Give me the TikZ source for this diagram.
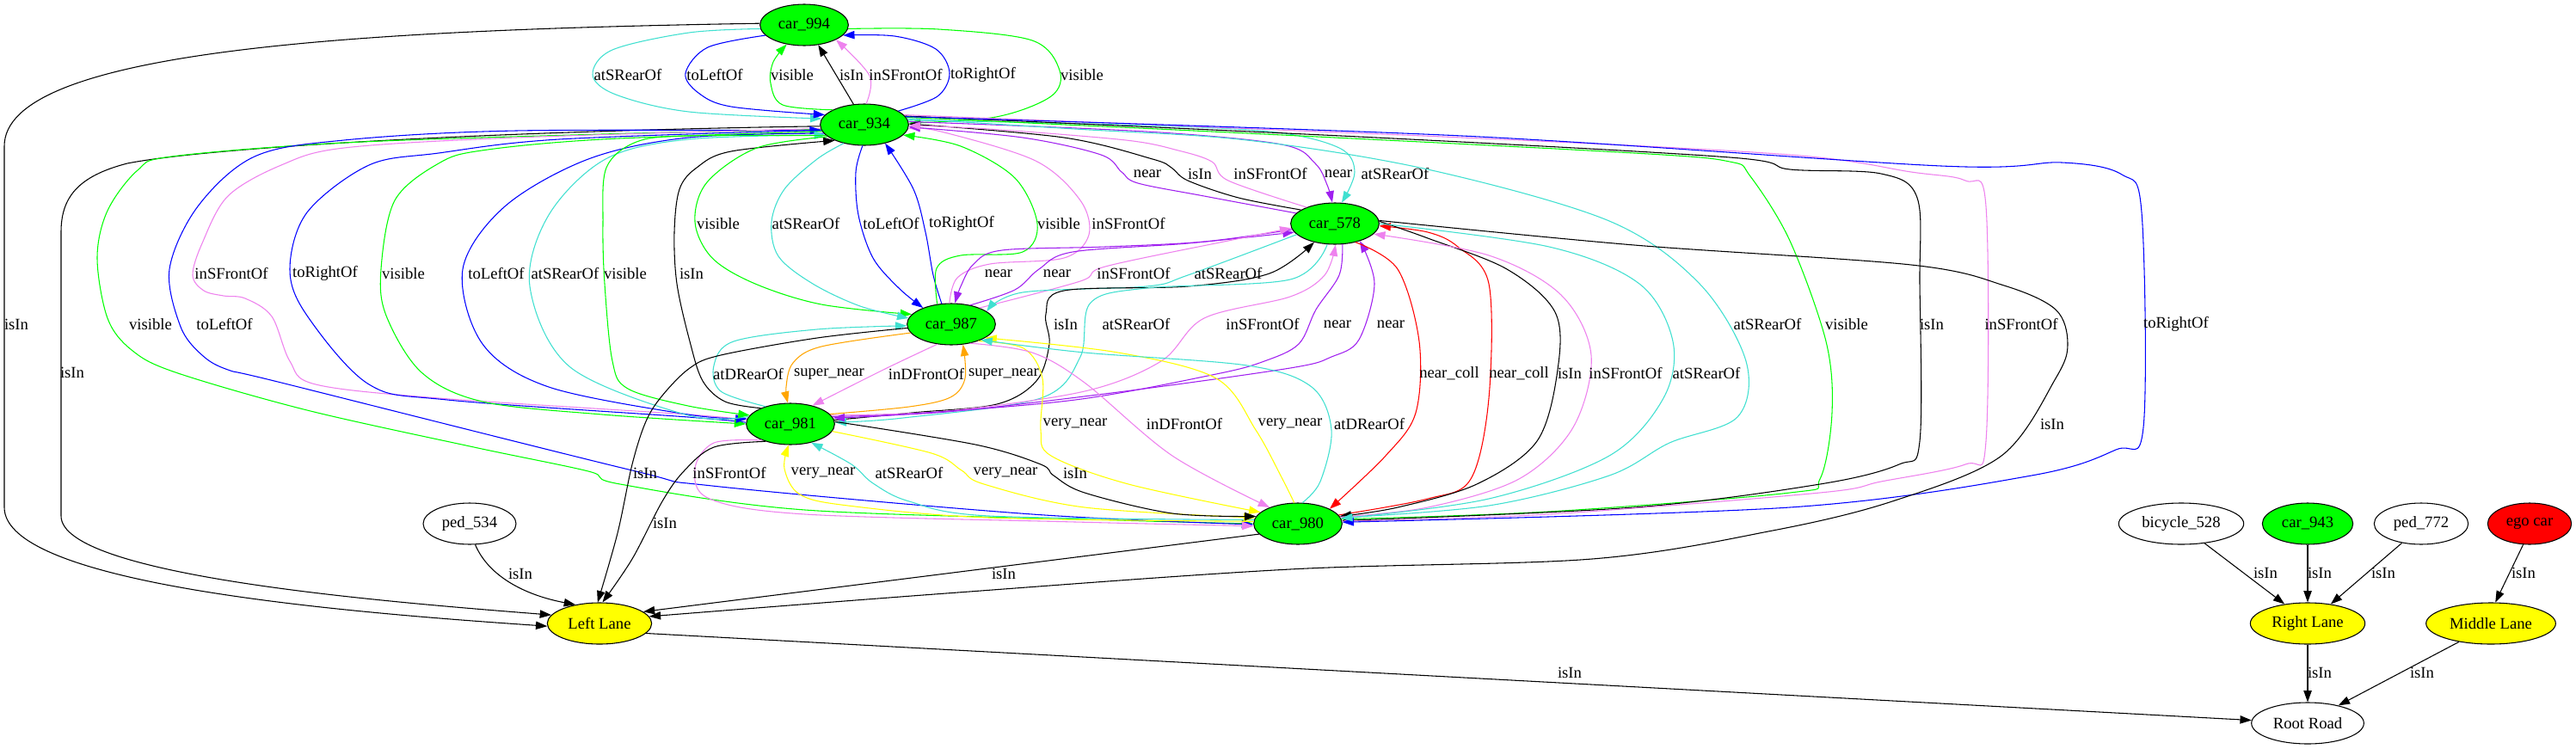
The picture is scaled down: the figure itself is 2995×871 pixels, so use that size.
\documentclass[tikz,border=0pt]{standalone}
\usepackage{fontspec}
\setmainfont{Liberation Serif}
\usetikzlibrary{shapes.geometric,arrows.meta}
\definecolor{gvgreen}{HTML}{00FF00}
\definecolor{gvblue}{HTML}{0000FF}
\definecolor{gvturq}{HTML}{40E0D0}
\definecolor{gvviolet}{HTML}{EE82EE}
\definecolor{gvpurple}{HTML}{A020F0}
\definecolor{gvorange}{HTML}{FFA500}
\definecolor{gvyellow}{HTML}{FFFF00}
\definecolor{gvred}{HTML}{FF0000}
\newcommand\gvf{\fontsize{14}{16}\selectfont}
\newcommand\gedge[2]{\draw[ed,#1] plot[smooth,tension=0.55] coordinates {#2};}
\begin{document}
\begin{tikzpicture}[x=0.75pt,y=-0.75pt,
  ed/.style={line width=0.8pt,-{Triangle[length=10pt,width=7pt]}},
  nd/.style={ellipse,draw,line width=0.8pt,minimum height=36pt,inner sep=0pt,font=\gvf},
  car/.style={nd,fill=gvgreen,minimum width=77pt},
  lane/.style={nd,fill=gvyellow},
  lbl/.style={font=\gvf,inner sep=0pt}]
\fill[white] (0,0) rectangle (2995,871);
\useasboundingbox (0,0) rectangle (2995,871);
% nodes
\node[car] (n994) at (935,29) {car\_994};
\node[car] (n934) at (1005,145) {car\_934};
\node[car] (n578) at (1552,260) {car\_578};
\node[car] (n987) at (1106,377) {car\_987};
\node[car] (n981) at (919,493) {car\_981};
\node[car] (n980) at (1509,609) {car\_980};
\node[nd,minimum width=81pt] (p534) at (546,609) {ped\_534};
\node[lane,minimum width=91pt] (lft) at (697,725) {Left Lane};
\node[nd,minimum width=109pt] (bic) at (2536,609) {bicycle\_528};
\node[car,minimum width=79pt] (c943) at (2683,609) {car\_943};
\node[nd,minimum width=82pt] (p772) at (2815,609) {ped\_772};
\node[nd,fill=gvred,minimum width=73pt] (ego) at (2941,609) {ego car};
\node[lane,minimum width=100pt] (rgt) at (2683,725) {Right Lane};
\node[lane,minimum width=113pt] (mid) at (2896,725) {Middle Lane};
\node[nd,minimum width=98pt] (root) at (2683,841) {Root Road};
% A: car_994 <-> car_934
\gedge{gvturq}{(n994.185) (801,38) (712,58) (689,87) (716,110) (801,130) (n934.172)}
\gedge{gvblue}{(n994.195) (823,55) (797,85) (812,108) (850,124) (n934.166)}
\gedge{gvgreen}{(n934.155) (910,122) (896,97) (899,72) (n994.228)}
\draw[ed] (n934.118) -- (n994.305);
\gedge{gvviolet}{(n934.85) (1011,88) (n994.335)}
\gedge{gvblue}{(n934.22) (1090,112) (1104,85) (1088,57) (1040,42) (n994.345)}
\gedge{gvgreen}{(n994.355) (1091,34) (1200,47) (1232,82) (1222,112) (1158,136) (n934.2)}
\node[lbl] (l1) at (730,87) {atSRearOf};
\node[lbl] (l2) at (831,87) {toLeftOf};
\node[lbl] (l3) at (921,87) {visible};
\node[lbl] (l4) at (990,87) {isIn};
\node[lbl] (l5) at (1053,87) {inSFrontOf};
\node[lbl] (l6) at (1143,87) {toRightOf};
\node[lbl] (l7) at (1258,87) {visible};
% B, C: to Left Lane along the far left
\draw[ed] (n994.178) .. controls (400,35) and (5,60) .. (5,170) -- (5,590) .. controls (5,680) and (400,712) .. (lft.183);
\node[lbl] (l8) at (19,377) {isIn};
\draw[ed] (n934.182) .. controls (600,152) and (250,170) .. (148,190) .. controls (90,205) and (71,230) .. (71,270) -- (71,600) .. controls (71,670) and (450,700) .. (lft.170);
\node[lbl] (l9) at (84,433) {isIn};
% D: car_934 -> car_980 (left)
\gedge{gvgreen}{(n934.186) (700,156) (400,166) (200,182) (160,198) (125,245) (113,300) (125,370) (153,407) (204,433) (357,477) (551,520) (684,548) (721,563) (936,593) (1300,605) (n980.west)}
\gedge{gvblue}{(n934.188) (600,152) (400,163) (296,182) (230,240) (197,313) (210,380) (235,413) (265,430) (327,445) (735,547) (828,565) (1200,598) (n980.181)}
\node[lbl] (l10) at (175,377) {visible};
\node[lbl] (l11) at (261,377) {toLeftOf};
% E: car_934 <-> car_981
\gedge{gvviolet}{(n934.185) (600,160) (400,172) (327,192) (265,228) (235,283) (224,320) (237,338) (260,344) (285,347) (316,368) (337,420) (367,447) (510,463) (800,482) (n981.175)}
\gedge{gvblue}{(n981.178) (800,485) (520,465) (429,447) (357,367) (337,313) (357,247) (429,192) (510,178) (650,162) (n934.187)}
\gedge{gvgreen}{(n934.189) (700,162) (560,175) (510,190) (459,233) (443,313) (449,367) (490,433) (561,467) (700,482) (n981.180)}
\gedge{gvblue}{(n934.192) (800,160) (684,185) (587,240) (538,313) (561,400) (638,450) (800,482) (n981.173)}
\gedge{gvturq}{(n981.170) (800,483) (663,427) (616,333) (638,250) (704,185) (800,162) (n934.195)}
\gedge{gvgreen}{(n934.196) (800,158) (740,165) (705,195) (701,260) (703,330) (712,420) (730,452) (800,472) (n981.168)}
\gedge{black}{(n981.152) (843,467) (817,443) (802,397) (787,330) (784,270) (790,220) (810,195) (850,176) (n934.208)}
\node[lbl] (l12) at (269,318) {inSFrontOf};
\node[lbl] (l13) at (378,318) {toRightOf};
\node[lbl] (l14) at (469,318) {visible};
\node[lbl] (l15) at (577,318) {toLeftOf};
\node[lbl] (l16) at (657,318) {atSRearOf};
\node[lbl] (l17) at (727,318) {visible};
\node[lbl] (l18) at (804,318) {isIn};
% F: car_934 <-> car_987
\gedge{gvgreen}{(n934.198) (880,172) (822,212) (808,258) (828,300) (878,330) (955,354) (n987.166)}
\gedge{gvturq}{(n934.222) (950,185) (912,220) (897,258) (905,298) (945,330) (1000,356) (n987.172)}
\gedge{gvblue}{(n934.265) (995,200) (998,250) (1015,300) (1045,335) (n987.150)}
\gedge{gvblue}{(n987.115) (1085,320) (1076,270) (1062,220) (n934.318)}
\gedge{gvgreen}{(n987.125) (1089,312) (1117,297) (1189,293) (1206,260) (1180,207) (1117,170) (n934.345)}
\gedge{gvviolet}{(n987.95) (1113,323) (1151,307) (1237,300) (1266,273) (1256,233) (1204,187) (1094,153) (n934.355)}
\node[lbl] (l19) at (835,260) {visible};
\node[lbl] (l20) at (937,260) {atSRearOf};
\node[lbl] (l21) at (1036,260) {toLeftOf};
\node[lbl] (l22) at (1118,260) {toRightOf};
\node[lbl] (l23) at (1231,260) {visible};
\node[lbl] (l24) at (1312,260) {inSFrontOf};
% G: car_934 <-> car_578
\gedge{gvpurple}{(n578.165) (1400,228) (1323,213) (1304,200) (1280,180) (1189,160) (n934.357)}
\gedge{black}{(n578.158) (1440,230) (1381,210) (1362,195) (1340,185) (1237,160) (n934.1)}
\gedge{gvviolet}{(n578.150) (1428,210) (1409,188) (1370,175) (1309,163) (1150,150) (n934.359)}
\gedge{gvpurple}{(n934.4) (1333,153) (1490,168) (1529,190) (1543,215) (n578.97)}
\gedge{gvturq}{(n934.6) (1300,145) (1476,153) (1557,172) (1575,200) (n578.72)}
\node[lbl] (l25) at (1334,202) {near};
\node[lbl] (l26) at (1395,202) {isIn};
\node[lbl] (l27) at (1477,202) {inSFrontOf};
\node[lbl] (l28) at (1556,202) {near};
\node[lbl] (l29) at (1622,202) {atSRearOf};
% H: car_934 -> car_980 (right)
\gedge{gvturq}{(n934.8) (1250,150) (1450,163) (1660,197) (1871,257) (1976,330) (2030,420) (2020,485) (1941,515) (1871,553) (1731,588) (n980.8)}
\gedge{gvgreen}{(n934.10) (1450,155) (1900,178) (2011,188) (2035,205) (2081,280) (2123,397) (2130,480) (2116,557) (2081,573) (1800,595) (n980.6)}
\gedge{black}{(n934.12) (1600,160) (2011,183) (2081,197) (2187,202) (2229,230) (2232,330) (2232,513) (2208,540) (2116,563) (1900,590) (n980.4)}
\gedge{gvviolet}{(n934.14) (1700,160) (2081,180) (2222,200) (2285,210) (2309,240) (2309,513) (2285,540) (2187,560) (2116,573) (1800,598) (n980.3)}
\gedge{gvblue}{(n934.11) (1700,158) (2257,193) (2397,189) (2467,203) (2490,247) (2492,497) (2460,523) (2362,553) (2081,590) (n980.2)}
\node[lbl] (l30) at (2055,377) {atSRearOf};
\node[lbl] (l31) at (2147,377) {visible};
\node[lbl] (l32) at (2246,377) {isIn};
\node[lbl] (l33) at (2350,377) {inSFrontOf};
\node[lbl] (l34) at (2530,377) {toRightOf};
% I: car_578 <-> car_987
\gedge{gvpurple}{(n578.188) (1400,281) (1285,287) (1165,291) (1132,307) (1117,333) (n987.80)}
\gedge{gvpurple}{(n987.45) (1180,337) (1208,313) (1247,293) (1381,283) (n578.192)}
\gedge{gvviolet}{(n987.30) (1256,327) (1285,310) (1428,280) (n578.186)}
\gedge{gvturq}{(n578.196) (1381,320) (1333,333) (1189,340) (n987.20)}
\node[lbl] (l35) at (1161,318) {near};
\node[lbl] (l36) at (1229,318) {near};
\node[lbl] (l37) at (1318,318) {inSFrontOf};
\node[lbl] (l38) at (1428,318) {atSRearOf};
% J: car_578 <-> car_981
\gedge{black}{(n981.5) (1060,480) (1159,470) (1205,443) (1220,400) (1216,365) (1237,338) (1381,333) (1476,318) (n578.222)}
\gedge{gvturq}{(n578.250) (1500,325) (1333,335) (1268,352) (1256,415) (1210,463) (1050,486) (n981.2)}
\gedge{gvviolet}{(n981.12) (1100,478) (1261,455) (1350,420) (1400,370) (1500,345) (1540,320) (n578.272)}
\gedge{gvpurple}{(n578.290) (1557,320) (1530,360) (1510,400) (1470,420) (1414,435) (1250,465) (1050,482) (n981.8)}
\gedge{gvpurple}{(n981.10) (1100,479) (1300,456) (1500,428) (1548,415) (1580,395) (1598,330) (n578.325)}
\node[lbl] (l39) at (1239,377) {isIn};
\node[lbl] (l40) at (1321,377) {atSRearOf};
\node[lbl] (l41) at (1468,377) {inSFrontOf};
\node[lbl] (l42) at (1555,377) {near};
\node[lbl] (l43) at (1617,377) {near};
% K: car_578 <-> car_980
\gedge{gvred}{(n578.318) (1625,313) (1650,397) (1646,480) (1611,530) (n980.25)}
\gedge{gvred}{(n980.12) (1660,580) (1710,557) (1731,463) (1731,330) (1695,287) (1660,270) (n578.357)}
\gedge{black}{(n578.3) (1660,277) (1752,313) (1808,363) (1811,430) (1787,513) (1717,563) (1625,590) (n980.10)}
\gedge{gvviolet}{(n980.9) (1660,590) (1766,557) (1829,497) (1850,413) (1815,343) (1731,297) (n578.345)}
\gedge{gvturq}{(n578.0) (1801,287) (1906,330) (1945,397) (1934,463) (1871,530) (1731,580) (n980.7)}
\node[lbl] (l44) at (1685,434) {near\_coll};
\node[lbl] (l45) at (1766,434) {near\_coll};
\node[lbl] (l46) at (1825,434) {isIn};
\node[lbl] (l47) at (1890,434) {inSFrontOf};
\node[lbl] (l48) at (1984,434) {atSRearOf};
% car_578 -> Left Lane
\gedge{black}{(n578.4) (1900,285) (2222,308) (2330,332) (2390,360) (2404,400) (2390,440) (2327,530) (2200,583) (2061,617) (1851,650) (1500,662) (1100,690) (lft.8)}
\node[lbl] (l49) at (2386,493) {isIn};
% L: car_987 <-> car_981
\gedge{gvturq}{(n981.145) (838,455) (830,425) (853,397) (950,383) (n987.182)}
\gedge{gvorange}{(n987.192) (955,403) (922,422) (914,450) (n981.97)}
\gedge{gvviolet}{(n987.235) (1027,430) (n981.40)}
\gedge{gvorange}{(n981.14) (1057,473) (1105,462) (1122,440) (n987.300)}
\node[lbl] (l50) at (870,435) {atDRearOf};
\node[lbl] (l51) at (964,435) {super\_near};
\node[lbl] (l52) at (1077,435) {inDFrontOf};
\node[lbl] (l53) at (1167,435) {super\_near};
% N: car_987 <-> car_980
\gedge{gvyellow}{(n987.328) (1190,405) (1212,440) (1210,500) (1222,530) (1312,563) (n980.163)}
\gedge{gvviolet}{(n987.315) (1200,410) (1261,445) (1363,530) (n980.150)}
\gedge{gvyellow}{(n980.100) (1490,555) (1460,500) (1414,440) (1300,410) (n987.338)}
\gedge{gvturq}{(n980.78) (1535,560) (1548,500) (1525,450) (1450,425) (1261,410) (n987.332)}
\node[lbl] (l54) at (1250,493) {very\_near};
\node[lbl] (l55) at (1377,493) {inDFrontOf};
\node[lbl] (l56) at (1500,493) {very\_near};
\node[lbl] (l57) at (1592,493) {atDRearOf};
% M: car_981 <-> car_980
\gedge{gvviolet}{(n981.210) (830,515) (808,545) (825,580) (936,598) (1250,607) (n980.183)}
\gedge{gvyellow}{(n980.177) (1150,602) (986,588) (930,575) (912,545) (n981.265)}
\gedge{gvturq}{(n980.175) (1150,600) (1057,583) (1015,562) (990,540) (n981.318)}
\gedge{gvyellow}{(n981.350) (1083,527) (1118,547) (1144,563) (1261,590) (n980.172)}
\gedge{black}{(n981.3) (1134,517) (1210,540) (1225,553) (1261,573) (1363,597) (n980.170)}
\node[lbl] (l58) at (848,550) {inSFrontOf};
\node[lbl] (l59) at (957,550) {very\_near};
\node[lbl] (l60) at (1057,550) {atSRearOf};
\node[lbl] (l61) at (1169,550) {very\_near};
\node[lbl] (l62) at (1250,550) {isIn};
% cars -> Left Lane
\gedge{black}{(n987.185) (950,393) (838,413) (802,428) (770,460) (751,490) (735,540) (718,620) (lft.95)}
\node[lbl] (l63) at (750,550) {isIn};
\gedge{black}{(n981.215) (830,520) (795,548) (770,583) (735,650) (lft.82)}
\node[lbl] (l64) at (773,608) {isIn};
\draw[ed] (n980.195) -- (lft.15);
\node[lbl] (l65) at (1167,667) {isIn};
\draw[ed] (p534.285) .. controls (568,670) and (610,692) .. (lft.142);
\node[lbl] (l66) at (605,667) {isIn};
\draw[ed] (lft.348) -- (root.177);
\node[lbl] (l67) at (1825,782) {isIn};
% right cluster
\draw[ed] (bic.320) -- (rgt.140);
\node[lbl] (l68) at (2634,666) {isIn};
\draw[ed] (c943.south) -- (rgt.north);
\node[lbl] (l69) at (2697,666) {isIn};
\draw[ed] (p772.225) -- (rgt.40);
\node[lbl] (l70) at (2771,666) {isIn};
\draw[ed] (ego.253) -- (mid.78);
\node[lbl] (l71) at (2934,666) {isIn};
\draw[ed] (rgt.south) -- (root.north);
\node[lbl] (l72) at (2697,782) {isIn};
\draw[ed] (mid.210) -- (root.30);
\node[lbl] (l73) at (2816,782) {isIn};
\end{tikzpicture}
\end{document}
